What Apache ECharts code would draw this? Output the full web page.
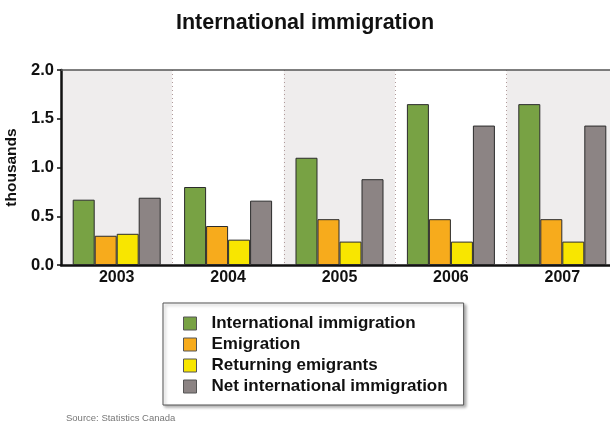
<!DOCTYPE html>
<html>
<head>
<meta charset="utf-8">
<script src="https://cdn.jsdelivr.net/npm/echarts@6/dist/echarts.min.js"></script>
<style>
  html, body { margin: 0; padding: 0; background: #ffffff; }
  #chart { width: 610px; height: 425px; }
</style>
</head>
<body>
<div id="chart"></div>
<script>
// Years on the category axis
const years = ['2003', '2004', '2005', '2006', '2007'];

// Values in thousands
const internationalImmigration = [0.67, 0.80, 1.10, 1.65, 1.65];
const emigration = [0.30, 0.40, 0.47, 0.47, 0.47];
const returningEmigrants = [0.32, 0.26, 0.24, 0.24, 0.24];
const netInternationalImmigration = [0.69, 0.66, 0.88, 1.43, 1.43];

// Value axis tick labels
const yTicks = ['0.0', '0.5', '1.0', '1.5', '2.0'];

const seriesNames = [
  'International immigration',
  'Emigration',
  'Returning emigrants',
  'Net international immigration'
];
const seriesData = [internationalImmigration, emigration, returningEmigrants, netInternationalImmigration];
const seriesColors = ['#78a244', '#f7ab1c', '#f8e600', '#8c8484'];

const chart = echarts.init(document.getElementById('chart'), null, { renderer: 'canvas' });

const font = 'Liberation Sans, Arial, sans-serif';

chart.setOption({
  animation: false,
  backgroundColor: '#ffffff',
  title: {
    text: 'International immigration',
    left: 'center',
    top: 7,
    textStyle: { fontFamily: font, fontSize: 21.5, fontWeight: 'bold', color: '#111' }
  },
  grid: { left: 61, right: -8, top: 70, bottom: 160, containLabel: false, outerBoundsMode: 'none' },
  legend: {
    orient: 'vertical',
    left: 163,
    top: 303,
    padding: [12, 16, 10, 20],
    itemGap: 4,
    itemWidth: 13,
    itemHeight: 13,
    icon: 'rect',
    borderColor: '#555',
    borderWidth: 1,
    backgroundColor: '#ffffff',
    shadowColor: 'rgba(0,0,0,0.3)',
    shadowBlur: 3,
    shadowOffsetX: 2,
    shadowOffsetY: 2,
    textStyle: { fontFamily: font, fontSize: 17, fontWeight: 'bold', color: '#111', padding: [0, 0, 0, 10] },
    itemStyle: { borderColor: '#555', borderWidth: 1 },
    data: seriesNames
  },
  graphic: [{
    type: 'text',
    left: 66,
    top: 413,
    style: { text: 'Source: Statistics Canada', fontFamily: font, fontSize: 9.5, fill: '#777' }
  }],
  xAxis: [{
    type: 'category',
    data: years,
    axisLine: { show: true, lineStyle: { color: '#111', width: 2.5 } },
    axisTick: { show: false },
    axisLabel: { fontFamily: font, fontSize: 16, fontWeight: 'bold', color: '#111', margin: 5 },
    splitLine: { show: true, lineStyle: { color: '#b09a9a', type: [1, 3], width: 1 } },
    splitArea: { show: true, areaStyle: { color: ['#efeded', '#ffffff'] } }
  }, {
    type: 'category',
    data: years,
    position: 'top',
    axisLine: { show: true, lineStyle: { color: '#555', width: 1.5 } },
    axisTick: { show: false },
    axisLabel: { show: false }
  }],
  yAxis: {
    type: 'value',
    min: 0,
    max: 2,
    interval: 0.5,
    name: 'thousands',
    nameLocation: 'middle',
    nameGap: 35,
    nameTextStyle: { fontFamily: font, fontSize: 15.5, fontWeight: 'bold', color: '#111' },
    axisLine: { show: true, lineStyle: { color: '#111', width: 2.5 } },
    axisTick: { show: true, length: 4, lineStyle: { color: '#111', width: 1.5 } },
    axisLabel: {
      fontFamily: font, fontSize: 16.5, fontWeight: 'bold', color: '#111', margin: 7,
      formatter: (v) => yTicks[Math.round(v / 0.5)]
    },
    splitLine: { show: true, lineStyle: { color: '#dedada', width: 1 } }
  },
  series: seriesNames.map((name, i) => ({
    name: name,
    type: 'bar',
    data: seriesData[i],
    barGap: '0%',
    barCategoryGap: '21%',
    itemStyle: { color: seriesColors[i], borderColor: '#2b2b2b', borderWidth: 1 }
  }))
});
</script>
</body>
</html>
